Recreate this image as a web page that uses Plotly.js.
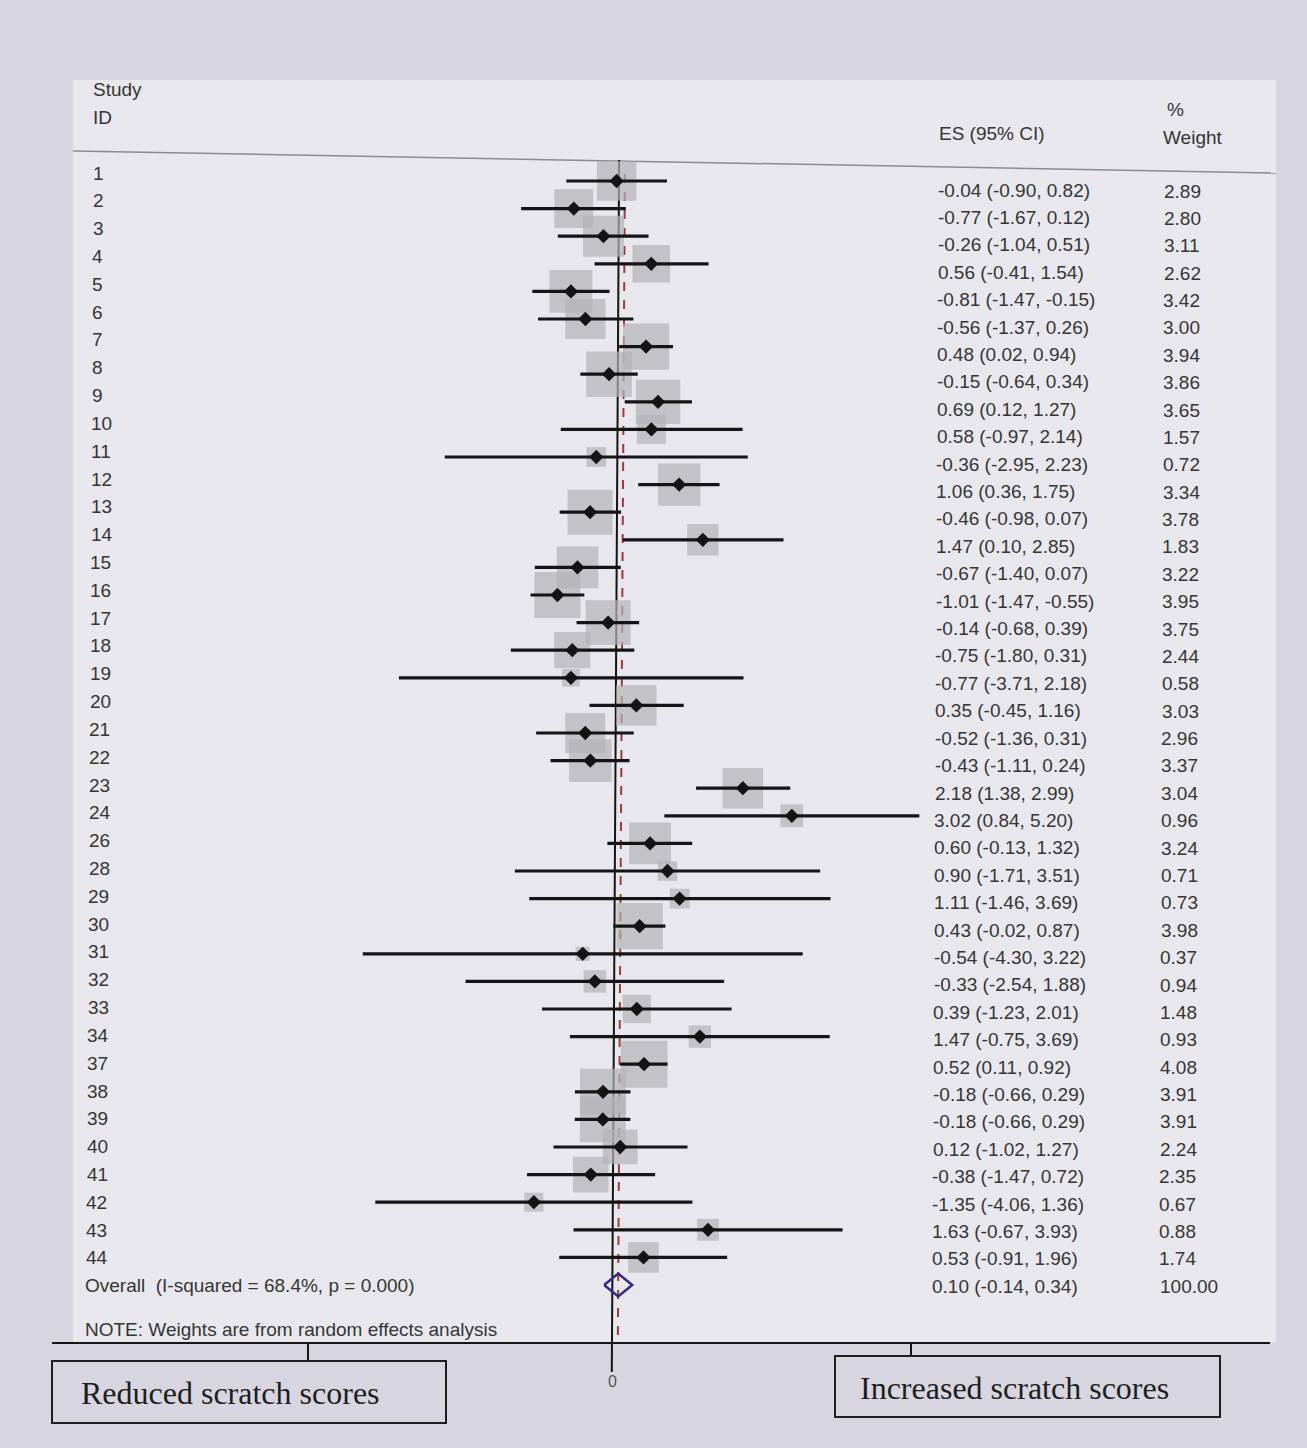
<!DOCTYPE html>
<html><head><meta charset="utf-8">
<script src="https://cdn.plot.ly/plotly-3.0.1.min.js"></script>
<style>html,body{margin:0;padding:0;background:#d7d5df;}</style>
</head><body>
<div id="chart" style="width:1307px;height:1448px;"></div>
<script>
const studyIds = ["1","2","3","4","5","6","7","8","9","10","11","12","13","14","15","16","17","18","19","20","21","22","23","24","26","28","29","30","31","32","33","34","37","38","39","40","41","42","43","44"];
const effectSizes = [-0.04,-0.77,-0.26,0.56,-0.81,-0.56,0.48,-0.15,0.69,0.58,-0.36,1.06,-0.46,1.47,-0.67,-1.01,-0.14,-0.75,-0.77,0.35,-0.52,-0.43,2.18,3.02,0.60,0.90,1.11,0.43,-0.54,-0.33,0.39,1.47,0.52,-0.18,-0.18,0.12,-0.38,-1.35,1.63,0.53];
const ciLower = [-0.90,-1.67,-1.04,-0.41,-1.47,-1.37,0.02,-0.64,0.12,-0.97,-2.95,0.36,-0.98,0.10,-1.40,-1.47,-0.68,-1.80,-3.71,-0.45,-1.36,-1.11,1.38,0.84,-0.13,-1.71,-1.46,-0.02,-4.30,-2.54,-1.23,-0.75,0.11,-0.66,-0.66,-1.02,-1.47,-4.06,-0.67,-0.91];
const ciUpper = [0.82,0.12,0.51,1.54,-0.15,0.26,0.94,0.34,1.27,2.14,2.23,1.75,0.07,2.85,0.07,-0.55,0.39,0.31,2.18,1.16,0.31,0.24,2.99,5.20,1.32,3.51,3.69,0.87,3.22,1.88,2.01,3.69,0.92,0.29,0.29,1.27,0.72,1.36,3.93,1.96];
const weights = [2.89,2.80,3.11,2.62,3.42,3.00,3.94,3.86,3.65,1.57,0.72,3.34,3.78,1.83,3.22,3.95,3.75,2.44,0.58,3.03,2.96,3.37,3.04,0.96,3.24,0.71,0.73,3.98,0.37,0.94,1.48,0.93,4.08,3.91,3.91,2.24,2.35,0.67,0.88,1.74];
const overallES = 0.10, overallLo = -0.14, overallHi = 0.34, overallWeight = 100.00;
const overallLabel = "Overall  (I-squared = 68.4%, p = 0.000)";
const noteLabel = "NOTE: Weights are from random effects analysis";
const leftLabel = "Reduced scratch scores";
const rightLabel = "Increased scratch scores";

// layout helpers (pixel geometry of the photographed page)
const W = 1307, H = 1448;
const X0 = 612, PXU = 58.5;              // x=0 pixel at bottom, px per unit
const rowY = r => 181 + 27.6 * r;         // marker rows
const idY = r => 173 + 27.82 * r;
const esY = r => 190 + 27.41 * r;
const wtY = r => 191 + 27.38 * r;
const tilt = y => 7 * (1340 - y) / 1160 / PXU;   // slight photo tilt, in axis units
const px = v => v / W;
const n = studyIds.length;
const rows = studyIds.map((_, i) => i);

const fmt = v => v.toFixed(2);
const TXT = '#353535';
const FONT = 'Liberation Sans, Arial, sans-serif';
const FS = 19;

const traces = [];
// grey weight squares
traces.push({type:'scatter', mode:'markers', x: rows.map(i => effectSizes[i] + tilt(rowY(i))), y: rows.map(rowY),
  marker:{symbol:'square', size: weights.map(w => 23.2*Math.sqrt(w)), color:'#b3b2b6', line:{width:0}},
  hoverinfo:'skip', showlegend:false});
// CI lines
const cx = [], cy = [];
rows.forEach(i => { const t = tilt(rowY(i)); cx.push(ciLower[i] + t, ciUpper[i] + t, null); cy.push(rowY(i), rowY(i), null); });
traces.push({type:'scatter', mode:'lines', x: cx, y: cy, line:{color:'#141414', width:3.2}, hoverinfo:'skip', showlegend:false});
// point estimates
traces.push({type:'scatter', mode:'markers', x: rows.map(i => effectSizes[i] + tilt(rowY(i))), y: rows.map(rowY),
  marker:{symbol:'diamond', size:11, color:'#141414'}, hoverinfo:'skip', showlegend:false});
// overall diamond
const oy = rowY(n), ot = tilt(oy);
traces.push({type:'scatter', mode:'lines', x:[overallLo+ot, overallES+ot, overallHi+ot, overallES+ot, overallLo+ot],
  y:[oy, oy-11.5, oy, oy+11.5, oy], line:{color:'#2d2d80', width:2.5}, hoverinfo:'skip', showlegend:false});

const ann = [];
function txt(x, y, text, size, opts) {
  ann.push(Object.assign({xref:'paper', yref:'y', x: px(x - 2), y: y, text: text, showarrow:false,
    xanchor:'left', yanchor:'middle', font:{family:FONT, size:size, color:TXT}}, opts||{}));
}
// headers
txt(93, 89, 'Study', FS);
txt(93, 117, 'ID', FS);
txt(939, 133, 'ES (95% CI)', FS);
txt(1167, 109, '%', FS);
txt(1163, 137, 'Weight', FS);
rows.forEach(i => {
  txt(93 - 7*i/(n-1), idY(i), studyIds[i], FS);
  txt(938 - 6*i/(n-1), esY(i), fmt(effectSizes[i]) + ' (' + fmt(ciLower[i]) + ', ' + fmt(ciUpper[i]) + ')', FS);
  txt(1164 - 5*i/(n-1), wtY(i), fmt(weights[i]), FS);
});
txt(85, oy, overallLabel, FS);
txt(932, esY(n), fmt(overallES) + ' (' + fmt(overallLo) + ', ' + fmt(overallHi) + ')', FS);
txt(1160, wtY(n), fmt(overallWeight), FS);
txt(85, 1329, noteLabel, FS);
ann.push({xref:'paper', yref:'y', x: px(612), y: 1381, text: '0', showarrow:false, xanchor:'center', yanchor:'middle',
  font:{family:FONT, size:16, color:'#555'}});
// box labels
ann.push({xref:'paper', yref:'y', x: px(230), y: 1393, text: leftLabel, showarrow:false, xanchor:'center', yanchor:'middle',
  font:{family:'Liberation Serif, Times New Roman, serif', size:32, color:'#1e1e1e'}});
ann.push({xref:'paper', yref:'y', x: px(1014), y: 1388, text: rightLabel, showarrow:false, xanchor:'center', yanchor:'middle',
  font:{family:'Liberation Serif, Times New Roman, serif', size:32, color:'#1e1e1e'}});

const shapes = [
  // light panel
  {type:'rect', xref:'paper', yref:'y', x0:px(73), x1:px(1276), y0:80, y1:1342, fillcolor:'#e8e7ed', line:{width:0}, layer:'below'},
  // header rule
  {type:'line', xref:'paper', yref:'y', x0:px(73), x1:px(1276), y0:151, y1:173, line:{color:'#8a8a90', width:1.5}, layer:'below'},
  // null line
  {type:'line', xref:'x', yref:'y', x0:0 + tilt(160), x1:0 + tilt(1372), y0:160, y1:1372, line:{color:'#141414', width:2}, layer:'below'},
  // overall dashed line
  {type:'line', xref:'x', yref:'y', x0:overallES + tilt(174), x1:overallES + tilt(1342), y0:174, y1:1342, line:{color:'#a03a3a', width:2, dash:'dash'}, layer:'below'},
  // bottom axis line
  {type:'line', xref:'paper', yref:'y', x0:px(52), x1:px(1270), y0:1343, y1:1343, line:{color:'#141414', width:2}},
  {type:'line', xref:'paper', yref:'y', x0:px(308), x1:px(308), y0:1343, y1:1361, line:{color:'#141414', width:2}},
  {type:'line', xref:'paper', yref:'y', x0:px(911), x1:px(911), y0:1343, y1:1356, line:{color:'#141414', width:2}},
  // label boxes
  {type:'rect', xref:'paper', yref:'y', x0:px(52), x1:px(446), y0:1361, y1:1423, line:{color:'#1e1e1e', width:2}, fillcolor:'rgba(0,0,0,0)'},
  {type:'rect', xref:'paper', yref:'y', x0:px(835), x1:px(1220), y0:1356, y1:1417, line:{color:'#1e1e1e', width:2}, fillcolor:'rgba(0,0,0,0)'}
];

const layout = {
  width: W, height: H, margin:{l:0, r:0, t:0, b:0},
  paper_bgcolor:'#d7d5df', plot_bgcolor:'rgba(0,0,0,0)',
  xaxis:{range:[-X0/PXU, (W-X0)/PXU], visible:false, fixedrange:true},
  yaxis:{range:[H, 0], visible:false, fixedrange:true},
  showlegend:false, annotations: ann, shapes: shapes
};
Plotly.newPlot('chart', traces, layout, {staticPlot:true});
</script>
</body></html>
